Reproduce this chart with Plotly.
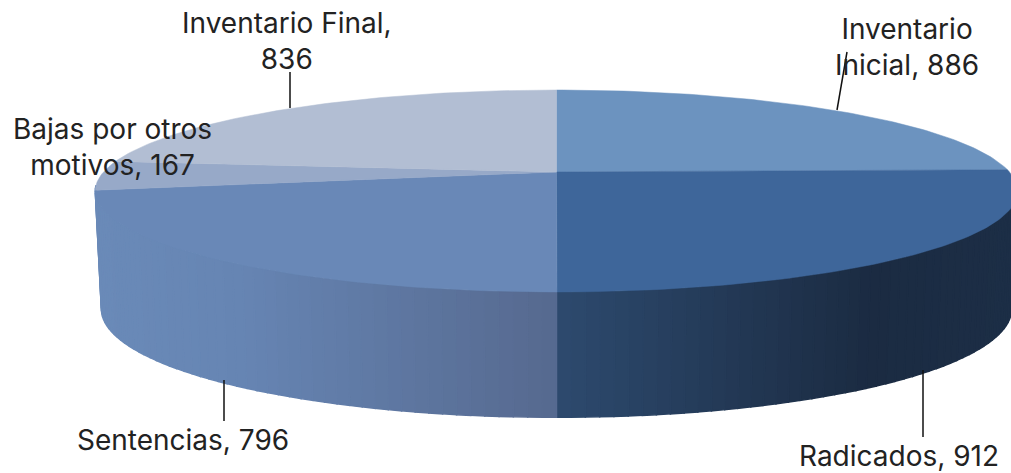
import math
import plotly.graph_objects as go

labels = ["Inventario Inicial", "Radicados", "Sentencias", "Bajas por otros motivos", "Inventario Final"]
values = [886, 912, 796, 167, 836]
top_colors = ["#6C93BF", "#3E669A", "#6988B7", "#97A9C8", "#B2BED3"]
label_text = ["Inventario<br>Inicial, 886", "Radicados, 912", "Sentencias, 796",
              "Bajas por otros<br>motivos, 167", "Inventario Final,<br>836"]
label_pos = [(907, 47), (899, 456), (183, 440), (112, 147), (287, 41)]
leaders = [((847, 52), (837, 110)), ((923, 370), (923, 437)), ((224, 380), (224, 421)), None, ((290, 72), (290, 108))]
wall_x = [95, 240, 556, 556.5, 870, 1015]
wall_c = ["#6A8AB8", "#6685B3", "#56698F", "#2D4A6E", "#1B2B42", "#1C2E46"]

W, H = 1011, 473
CX, CY, AX, AY, K = 556.5, 172, 453, 97.4, 0.188
BCY, BAX, BAY = 288.5, 447, 104.6


def proj(deg, cy=CY, ax=AX, ay=AY):
    t = math.radians(deg)
    u, v = math.sin(t), math.cos(t)
    w = 1 + K * v
    return CX + ax * u / w, cy - ay * v / w


def hex_rgb(h):
    return [int(h[i:i + 2], 16) for i in (1, 3, 5)]


def wall_color(x):
    for i in range(len(wall_x) - 1):
        if x <= wall_x[i + 1]:
            f = max(0, (x - wall_x[i]) / (wall_x[i + 1] - wall_x[i]))
            a, b = hex_rgb(wall_c[i]), hex_rgb(wall_c[i + 1])
            return "rgb(%d,%d,%d)" % tuple(round(p + (q - p) * f) for p, q in zip(a, b))
    return wall_c[-1]


fig = go.Figure()
total = sum(values)

# side wall, drawn in thin strips so it can shade along the rim
deg = 96.0
while deg < 262:
    d2 = deg + 1.5
    p1, p2 = proj(deg), proj(d2)
    p3, p4 = proj(d2, BCY, BAX, BAY), proj(deg, BCY, BAX, BAY)
    xs = [p1[0], p2[0], p3[0], p4[0], p1[0]]
    ys = [p1[1], p2[1], p3[1], p4[1], p1[1]]
    c = wall_color((p1[0] + p2[0]) / 2)
    fig.add_trace(go.Scatter(x=xs, y=ys, mode="lines", fill="toself", fillcolor=c,
                             line=dict(color=c, width=1.5), hoverinfo="skip", showlegend=False))
    deg = d2

# top face
start = 0.0
for name, val, col in zip(labels, values, top_colors):
    sweep = 360.0 * val / total
    n = max(8, int(sweep))
    pts = [proj(start + sweep * i / n) for i in range(n + 1)]
    xs = [CX] + [p[0] for p in pts] + [CX]
    ys = [CY] + [p[1] for p in pts] + [CY]
    fig.add_trace(go.Scatter(x=xs, y=ys, mode="lines", fill="toself", fillcolor=col,
                             line=dict(color=col, width=0.5), name=name,
                             text=f"{name}: {val}", hoverinfo="text", showlegend=False))
    start += sweep

shapes = []
for seg in leaders:
    if seg:
        shapes.append(dict(type="line", x0=seg[0][0], y0=seg[0][1], x1=seg[1][0], y1=seg[1][1],
                           xref="x", yref="y", line=dict(color="#111111", width=1.5)))

annotations = [dict(x=p[0], y=p[1], xref="x", yref="y", text=t, showarrow=False,
                    xanchor="center", yanchor="middle", align="center",
                    font=dict(family="Inter", size=28, color="#222222"))
               for t, p in zip(label_text, label_pos)]

fig.update_layout(
    width=W, height=H, margin=dict(l=0, r=0, t=0, b=0),
    paper_bgcolor="white", plot_bgcolor="white",
    xaxis=dict(range=[0, W], visible=False, fixedrange=True),
    yaxis=dict(range=[H, 0], visible=False, fixedrange=True),
    shapes=shapes, annotations=annotations,
)
fig.write_html("out.html", config={"displayModeBar": False},
               post_script="document.body.style.margin='0';")
